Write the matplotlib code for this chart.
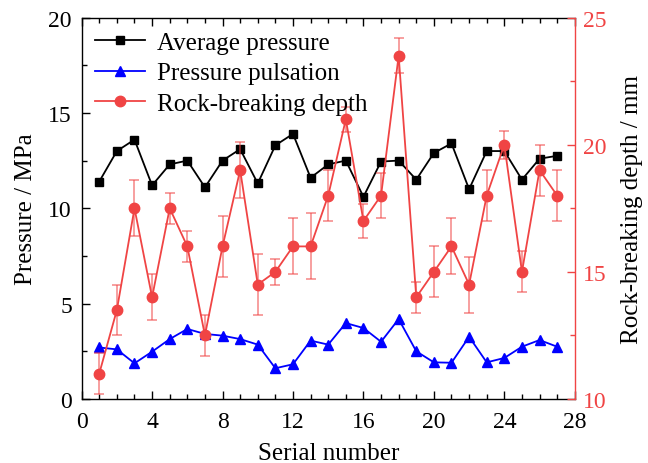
import matplotlib
matplotlib.use("Agg")
import matplotlib.pyplot as plt
from matplotlib.ticker import MultipleLocator

plt.rcParams['font.family'] = ['Liberation Serif', 'DejaVu Serif']
plt.rcParams['font.size'] = 16
plt.rcParams['mathtext.fontset'] = 'stix'

# data
serial = list(range(1, 28))
avg_pressure = [11.4, 13.0, 13.6, 11.2, 12.3, 12.5, 11.1, 12.5, 13.1, 11.3,
                13.3, 13.9, 11.6, 12.3, 12.5, 10.6, 12.45, 12.5, 11.5, 12.9,
                13.4, 11.0, 13.0, 13.0, 11.5, 12.6, 12.75]
pulsation = [2.7, 2.6, 1.87, 2.48, 3.14, 3.67, 3.41, 3.32, 3.14, 2.85,
             1.61, 1.82, 3.06, 2.85, 3.98, 3.72, 3.0, 4.19, 2.5, 1.92,
             1.9, 3.26, 1.92, 2.15, 2.74, 3.09, 2.74]
depth = [11.0, 13.5, 17.5, 14.0, 17.5, 16.0, 12.5, 16.0, 19.0, 14.5,
         15.0, 16.0, 16.0, 18.0, 21.0, 17.0, 18.0, 23.5, 14.0, 15.0,
         16.0, 14.5, 18.0, 20.0, 15.0, 19.0, 18.0]
depth_err = [0.8, 1.0, 1.1, 0.9, 0.6, 0.6, 0.8, 1.2, 1.1, 1.2,
             0.5, 1.1, 1.3, 1.0, 0.5, 0.65, 0.9, 0.7, 0.6, 1.0,
             1.1, 1.1, 1.0, 0.55, 0.8, 1.0, 1.0]

red = '#F04444'

fig = plt.figure(figsize=(6.48, 4.64), dpi=100)
ax1 = fig.add_axes([0.126, 0.138, 0.761, 0.822])
ax2 = ax1.twinx()

l1, = ax1.plot(serial, avg_pressure, color='black', marker='s', markersize=6.3,
               lw=1.3, label='Average pressure')
l2, = ax1.plot(serial, pulsation, color='blue', marker='^', markersize=7.5,
               lw=1.3, label='Pressure pulsation')

ax2.errorbar(serial, depth, yerr=depth_err, fmt='none', ecolor=red, alpha=0.6,
             elinewidth=1.2, capsize=3.5, capthick=1.2)
l3, = ax2.plot(serial, depth, color=red, marker='o', markersize=7.5,
               lw=1.3, label='Rock-breaking depth')

ax1.set_xlim(0, 28)
ax1.set_ylim(0, 20)
ax2.set_ylim(10, 25)
ax1.xaxis.set_major_locator(MultipleLocator(4))
ax1.xaxis.set_minor_locator(MultipleLocator(1))
ax1.yaxis.set_major_locator(MultipleLocator(5))
ax1.yaxis.set_minor_locator(MultipleLocator(2.5))
ax2.yaxis.set_major_locator(MultipleLocator(5))
ax2.yaxis.set_minor_locator(MultipleLocator(2.5))

ax1.tick_params(which='both', direction='in', top=True, right=False, colors='black',
                labelsize=17)
ax1.tick_params(which='major', length=6, width=1, pad=7)
ax1.tick_params(axis='x', which='major', pad=9)
ax1.tick_params(which='minor', length=3.5, width=1)
ax2.tick_params(which='both', direction='in', colors=red, labelsize=17)
ax2.tick_params(which='major', length=6, width=1, pad=6)
ax2.tick_params(which='minor', length=3.5, width=1)

ax2.spines['right'].set_color(red)
ax2.spines['left'].set_visible(False)
ax2.spines['top'].set_visible(False)
ax2.spines['bottom'].set_visible(False)
ax1.spines['right'].set_visible(False)
for s in ['left', 'bottom', 'top']:
    ax1.spines[s].set_linewidth(1)
ax2.spines['right'].set_linewidth(1)

ax1.set_xlabel('Serial number', fontsize=18, labelpad=7)
ax1.set_ylabel('Pressure / MPa', fontsize=18, labelpad=8)
ax2.set_ylabel('Rock-breaking depth / mm', fontsize=18, color='black', labelpad=10)

ax2.legend(handles=[l1, l2, l3], loc='upper left', frameon=False,
           handlelength=2.0, labelspacing=0.32, borderaxespad=0.15,
           handletextpad=0.45, fontsize=18)

fig.savefig('out.png', dpi=100)
